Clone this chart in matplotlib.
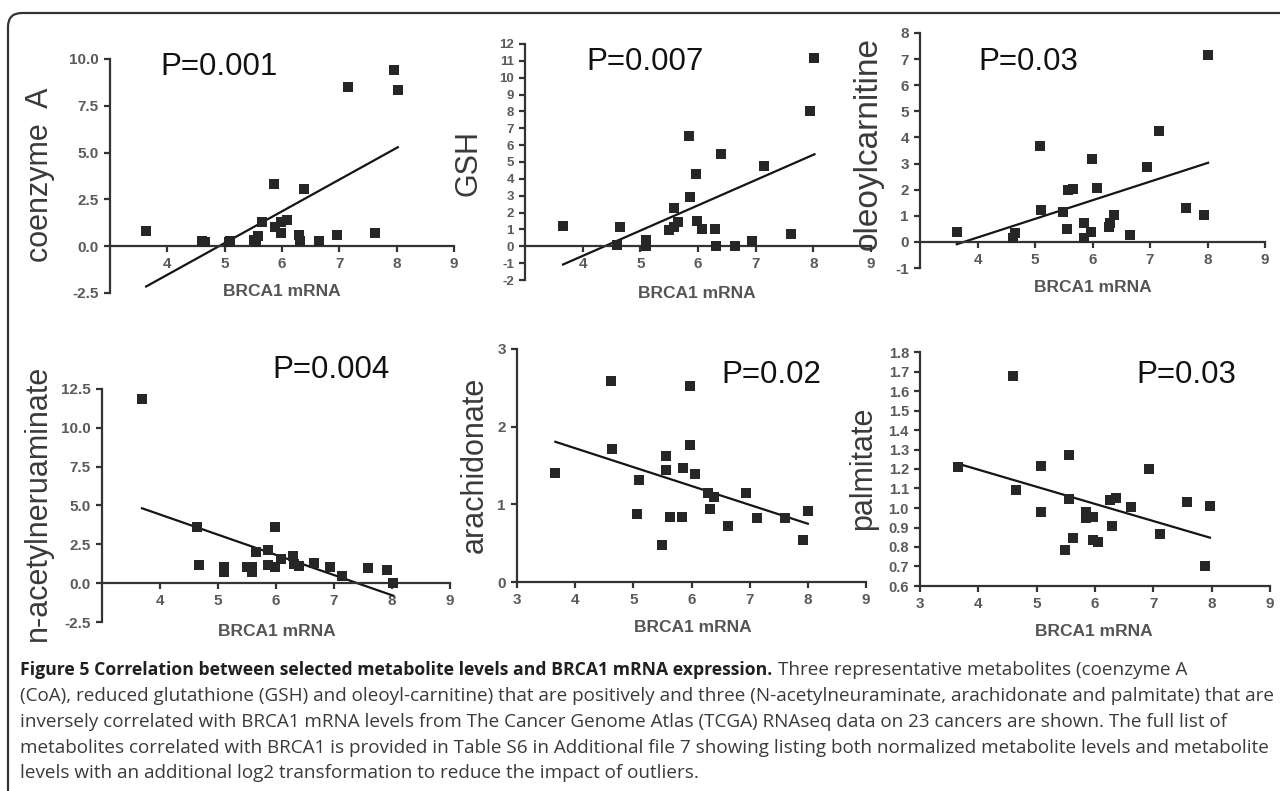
import numpy as np
import matplotlib
matplotlib.use('Agg')
import matplotlib.pyplot as plt
from matplotlib.patches import FancyBboxPatch

# BRCA1 mRNA (x) and metabolite level (y) per cancer
coa_x = [3.63, 4.61, 4.66, 5.07, 5.10, 5.51, 5.55, 5.58, 5.65, 5.86, 5.87, 5.99,
         5.99, 6.08, 6.30, 6.32, 6.39, 6.65, 6.96, 7.15, 7.62, 7.95, 8.02]
coa_y = [0.80, 0.29, 0.22, 0.22, 0.29, 0.32, 0.20, 0.54, 1.30, 3.30, 1.04, 0.71,
         1.30, 1.39, 0.59, 0.29, 3.04, 0.29, 0.62, 8.50, 0.71, 9.43, 8.32]

gsh_x = [3.66, 4.59, 4.64, 5.09, 5.10, 5.49, 5.58, 5.58, 5.65, 5.85, 5.86, 5.97,
         5.98, 6.07, 6.30, 6.31, 6.40, 6.64, 6.94, 7.15, 7.62, 7.94, 8.02]
gsh_y = [1.22, 0.10, 1.12, 0.04, 0.39, 0.99, 2.27, 1.12, 1.42, 6.57, 2.92, 4.28,
         1.48, 1.03, 1.03, 0.04, 5.49, 0.04, 0.30, 4.74, 0.73, 8.05, 11.15]

olc_x = [3.64, 4.61, 4.65, 5.09, 5.10, 5.49, 5.56, 5.58, 5.66, 5.86, 5.86, 5.97,
         5.99, 6.07, 6.28, 6.31, 6.38, 6.66, 6.94, 7.16, 7.62, 7.94, 8.01]
olc_y = [0.38, 0.15, 0.33, 3.68, 1.23, 1.14, 0.51, 1.99, 2.01, 0.72, 0.13, 0.36,
         3.17, 2.06, 0.57, 0.72, 1.02, 0.25, 2.86, 4.25, 1.30, 1.02, 7.14]

nan_x = [3.69, 4.64, 4.67, 5.10, 5.10, 5.50, 5.58, 5.58, 5.66, 5.86, 5.86, 5.98,
         5.99, 6.09, 6.30, 6.31, 6.39, 6.65, 6.93, 7.14, 7.59, 7.91, 8.02]
nan_y = [11.88, 3.59, 1.14, 1.01, 0.71, 1.01, 1.07, 0.69, 1.98, 2.15, 1.14, 3.59,
         1.01, 1.55, 1.72, 1.22, 1.12, 1.29, 1.01, 0.47, 0.97, 0.82, 0.04]

ara_x = [3.66, 4.61, 4.64, 5.07, 5.09, 5.50, 5.56, 5.56, 5.63, 5.84, 5.85, 5.97,
         5.98, 6.06, 6.28, 6.31, 6.38, 6.63, 6.93, 7.13, 7.60, 7.91, 8.00]
ara_y = [1.40, 2.59, 1.71, 0.87, 1.31, 0.47, 1.62, 1.44, 0.84, 0.84, 1.47, 2.53,
         1.76, 1.39, 1.14, 0.94, 1.09, 0.72, 1.15, 0.82, 0.83, 0.54, 0.92]

pal_x = [3.65, 4.60, 4.64, 5.07, 5.08, 5.48, 5.55, 5.56, 5.63, 5.85, 5.85, 5.96,
         5.97, 6.05, 6.26, 6.29, 6.36, 6.62, 6.92, 7.12, 7.58, 7.89, 7.97]
pal_y = [1.21, 1.675, 1.093, 1.216, 0.978, 0.785, 1.047, 1.27, 0.848, 0.982, 0.951, 0.954,
         0.836, 0.824, 1.042, 0.91, 1.052, 1.004, 1.199, 0.865, 1.033, 0.704, 1.008]

ylabels = ['coenzyme  A', 'GSH', 'oleoylcarnitine', 'n-acetylneruaminate', 'arachidonate', 'palmitate']
pvalues = ['P=0.001', 'P=0.007', 'P=0.03', 'P=0.004', 'P=0.02', 'P=0.03']

cap_bold = 'Figure 5 Correlation between selected metabolite levels and BRCA1 mRNA expression.'
cap_lines = ['Three representative metabolites (coenzyme A',
             '(CoA), reduced glutathione (GSH) and oleoyl-carnitine) that are positively and three (N-acetylneuraminate, arachidonate and palmitate) that are',
             'inversely correlated with BRCA1 mRNA levels from The Cancer Genome Atlas (TCGA) RNAseq data on 23 cancers are shown. The full list of',
             'metabolites correlated with BRCA1 is provided in Table S6 in Additional file 7 showing listing both normalized metabolite levels and metabolite',
             'levels with an additional log2 transformation to reduce the impact of outliers.']

W, H = 1280, 791
plt.rcParams['font.family'] = ['Liberation Sans', 'DejaVu Sans']
fig = plt.figure(figsize=(12.8, 7.91), dpi=100)

# pixel-space overlay for the frame and caption
bg = fig.add_axes([0, 0, 1, 1])
bg.set_xlim(0, W)
bg.set_ylim(H, 0)
bg.axis('off')
bg.add_patch(FancyBboxPatch((8, 13), 1300, 800, boxstyle='round,pad=0,rounding_size=14',
                            fc='white', ec='#333333', lw=1.6))

# layout: left, right, top, bottom (px), ylim, yticks, tick fmt, x axis at 0,
# ylabel centre, ylabel size, P text baseline-left, xlabel centre, ytick size
layout = [
    (110, 454, 59, 293, (-2.5, 10), np.arange(-2.5, 10.1, 2.5), '%.1f', True, (40, 175), 22, (160, 75), (282, 292), 11),
    (525, 871, 44, 280, (-2, 12), np.arange(-2, 13, 1), '%d', True, (468, 163), 22, (586, 70), (697, 293), 9.5),
    (920, 1265, 33, 268, (-1, 8), np.arange(-1, 9, 1), '%d', True, (868, 144), 24, (978, 70), (1093, 288), 11),
    (102, 450, 389, 622, (-2.5, 12.5), np.arange(-2.5, 12.6, 2.5), '%.1f', True, (38, 503), 22, (272, 378), (277, 631), 11),
    (517, 866, 349, 582, (0, 3), np.arange(0, 3.1, 1), '%d', False, (475, 465), 22, (721, 383), (693, 628), 11),
    (920, 1270, 352, 586, (0.6, 1.8), np.arange(0.6, 1.81, 0.1), '%.1f', False, (863, 468), 22, (1136, 383), (1094, 632), 10.5),
]

data = [(coa_x, coa_y), (gsh_x, gsh_y), (olc_x, olc_y), (nan_x, nan_y), (ara_x, ara_y), (pal_x, pal_y)]

spine_c = '#333333'
tick_c = '#5a5a5a'

for i, (x, y) in enumerate(data):
    l, r, t, b, ylim, yt, fmt, at_zero, ylp, yls, pp, xlp, yts = layout[i]
    ax = fig.add_axes([l / W, 1 - b / H, (r - l) / W, (b - t) / H])
    ax.patch.set_alpha(0)
    ax.scatter(x, y, marker='s', s=46, color='#262626', zorder=3, linewidths=0)
    k, c = np.polyfit(x, y, 1)
    xs = np.array([min(x), max(x)])
    ax.plot(xs, k * xs + c, color='#151515', lw=1.6, zorder=2)

    ax.set_xlim(3, 9)
    ax.set_ylim(*ylim)
    ax.spines['top'].set_visible(False)
    ax.spines['right'].set_visible(False)
    for s in ['left', 'bottom']:
        ax.spines[s].set_color(spine_c)
        ax.spines[s].set_linewidth(1.6)
    if at_zero:
        ax.spines['bottom'].set_position(('data', 0))
        ax.set_xticks([4, 5, 6, 7, 8, 9])
    else:
        ax.set_xticks([3, 4, 5, 6, 7, 8, 9])
    ax.set_yticks(yt)
    ax.set_yticklabels([fmt % v for v in yt])
    ax.tick_params(axis='both', direction='out', length=4, width=1.6, color=spine_c,
                   labelcolor=tick_c, pad=4)
    ax.tick_params(axis='y', labelsize=yts)
    ax.tick_params(axis='x', labelsize=11)
    for lab in ax.get_xticklabels() + ax.get_yticklabels():
        lab.set_fontweight('bold')

    ax.set_xlabel('BRCA1 mRNA', fontsize=12.5, fontweight='bold', color='#555555')
    ax.xaxis.set_label_coords(xlp[0], xlp[1], transform=bg.transData)
    ax.xaxis.label.set_va('center')
    ax.set_ylabel(ylabels[i], fontsize=yls, color='#3a3a3a')
    ax.yaxis.set_label_coords(ylp[0], ylp[1], transform=bg.transData)
    ax.yaxis.label.set_va('center')
    ax.text(pp[0], pp[1], pvalues[i], transform=bg.transData, fontsize=22.5,
            color='#111111', ha='left', va='baseline')

# caption
cap_font = ['Open Sans', 'DejaVu Sans']
t1 = bg.text(20, 670, cap_bold, fontsize=12.7, fontweight='bold', family=cap_font,
             color='#231f20', ha='left', va='center')
bg.annotate(cap_lines[0], xy=(1, 0.5), xycoords=t1, xytext=(4, 0), textcoords='offset points',
            fontsize=13.6, family=cap_font, color='#3a3a3a', ha='left', va='center')
for j, line in enumerate(cap_lines[1:]):
    bg.text(20, 696 + 25.8 * j, line, fontsize=13.6, family=cap_font,
            color='#3a3a3a', ha='left', va='center')

fig.savefig('out.png', dpi=100)
